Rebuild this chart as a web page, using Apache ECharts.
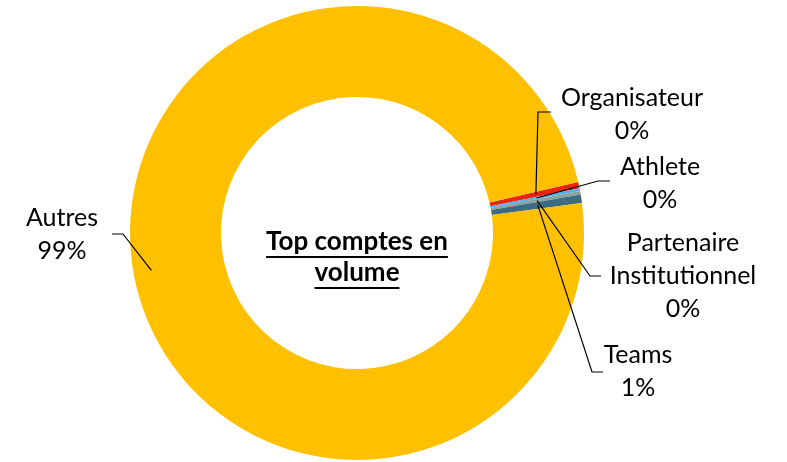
<!DOCTYPE html>
<html>
<head>
<meta charset="utf-8">
<script src="https://cdn.jsdelivr.net/npm/echarts@6/dist/echarts.min.js"></script>
<style>html,body{margin:0;padding:0;background:#fff}#c{width:787px;height:462px}</style>
</head>
<body>
<div id="c"></div>
<script>
var categories = ['Organisateur', 'Athlete', 'Partenaire\nInstitutionnel', 'Teams', 'Autres'];
var values = [0.45, 0.2, 0.25, 0.6, 98.5];
var colors = ['#EE2211', '#4FB0F0', '#8CA59C', '#3D6B82', '#FFC000'];
var centerTitle = ['Top comptes en', 'volume'];

// label placement (styling only)
var labelPos = [
  {x: 632, y: 114, elbow: [538, 112], end: [551, 112], r: 183},
  {x: 660, y: 183, elbow: [598, 181], end: [610, 181], r: 183},
  {x: 683, y: 276, elbow: [590, 276], end: [601, 276], r: 183},
  {x: 638, y: 371, elbow: [592, 372], end: [603, 372], r: 183},
  {x: 62, y: 234, elbow: [123, 234], end: [112, 234], r: 209}
];
var CX = 357, CY = 233, R0 = 136, R1 = 227;
var FONT = 'Lato';
var LFS = 25, TFS = 26;

function textW(t, font) {
  var c = document.createElement('canvas').getContext('2d');
  c.font = font;
  return c.measureText(t).width;
}
var tFont = 'bold ' + TFS + 'px ' + FONT;
var w1 = textW(centerTitle[0], tFont), w2 = textW(centerTitle[1], tFont);

function makeData(transparent) {
  return categories.map(function (c, i) {
    return {name: c, value: values[i], itemStyle: {color: transparent ? 'rgba(0,0,0,0)' : colors[i]}};
  });
}

var chart = echarts.init(document.getElementById('c'));
chart.setOption({
  animation: false,
  series: [{
    type: 'pie',
    z: 2,
    center: [CX, CY],
    radius: [R0, R1],
    startAngle: 13,
    clockwise: true,
    percentPrecision: 0,
    itemStyle: {borderWidth: 0},
    emphasis: {disabled: true},
    label: {show: false},
    labelLine: {show: false},
    data: makeData(false)
  }, {
    type: 'pie',
    z: 5,
    silent: true,
    center: [CX, CY],
    radius: [R0, R1],
    startAngle: 13,
    clockwise: true,
    percentPrecision: 0,
    avoidLabelOverlap: false,
    itemStyle: {borderWidth: 0},
    emphasis: {disabled: true},
    label: {
      show: true,
      position: 'outside',
      formatter: '{b}\n{d}%',
      fontFamily: FONT,
      fontSize: LFS,
      lineHeight: 33,
      color: '#000',
      align: 'center'
    },
    labelLine: {show: true, showAbove: true, length: 10, length2: 10, lineStyle: {color: '#000', width: 1.2}},
    labelLayout: function (p) {
      var i = p.dataIndex;
      var L = labelPos[i];
      var pts = p.labelLinePoints;
      var s = pts ? pts[0] : [CX, CY];
      var dx = s[0] - CX, dy = s[1] - CY;
      var d = Math.sqrt(dx * dx + dy * dy) || 1;
      var start = [CX + dx / d * L.r, CY + dy / d * L.r];
      return {
        x: L.x, y: L.y, align: 'center', verticalAlign: 'middle',
        labelLinePoints: [start, L.elbow, L.end]
      };
    },
    data: makeData(true)
  }],
  graphic: [
    {type: 'text', x: CX, y: 242, style: {text: centerTitle[0], font: tFont, fill: '#000', align: 'center', verticalAlign: 'middle'}},
    {type: 'text', x: CX, y: 273, style: {text: centerTitle[1], font: tFont, fill: '#000', align: 'center', verticalAlign: 'middle'}},
    {type: 'rect', shape: {x: CX - w1 / 2, y: 256, width: w1, height: 2}, style: {fill: '#000'}},
    {type: 'rect', shape: {x: CX - w2 / 2, y: 287, width: w2, height: 2}, style: {fill: '#000'}}
  ]
});
</script>
</body>
</html>
